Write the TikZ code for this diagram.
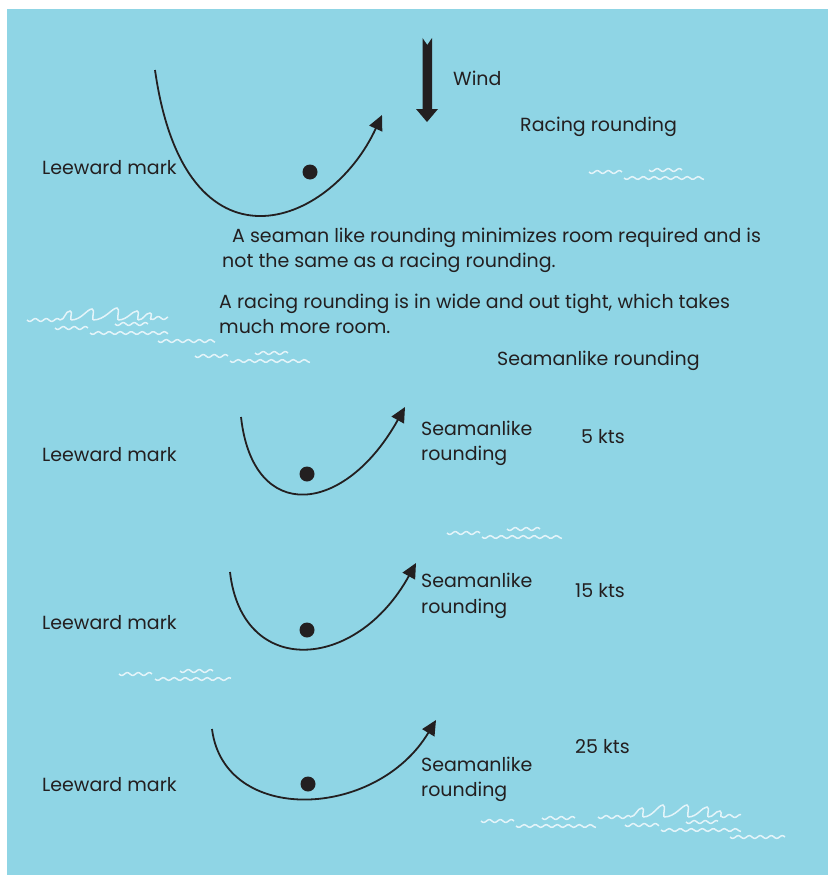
\documentclass[tikz,border=0pt]{standalone}
\usepackage{fontspec}
\setmainfont{Poppins}
\usetikzlibrary{arrows.meta}
\usepackage{xcolor}
\definecolor{sea}{RGB}{143,213,229}
\definecolor{foam}{RGB}{228,244,249}
\definecolor{ink}{RGB}{35,31,32}
\newcommand{\ripple}[3]{% x y length
  \draw[foam,line width=1.5pt] plot[domain=0:#3,samples=40] ({#1+\x},{#2+1.4*sin(\x*32.73)});
}
\newcommand{\crest}[4]{% from peak base top
  \draw[foam,line width=1.5pt] (#1,#3) .. controls ({(#1+#2)/2},#3) and (#2-5,#4) .. (#2,#4)
    .. controls (#2+3,#4+1) and (#2,#3-4) .. (#2+1,#3);
}

\begin{document}
\begin{tikzpicture}[x=1pt,y=-1pt,
  lbl/.style={anchor=west,inner sep=0pt,text=ink,font=\fontsize{19}{25.5}\selectfont},
  track/.style={ink,line width=1.8pt,-{Triangle[length=15pt,width=14pt]}},
  buoy/.style={circle,fill=ink,inner sep=0pt,minimum size=15pt}]
  \useasboundingbox (0,0) rectangle (828,875);
  \fill[sea] (7,9) rectangle (828,875);
  % waves
  \ripple{589}{172}{33}\ripple{649}{170}{33}\ripple{624}{178}{80}
  \ripple{27}{320}{33}\ripple{55}{328}{33}\ripple{90}{333}{78}\ripple{115}{324}{33}
  \ripple{150}{318}{18}\ripple{158}{341}{57}\ripple{195}{356}{33}\ripple{230}{361}{80}
  \ripple{255}{353}{33}
  \crest{60}{70}{320}{311}\crest{71}{92}{320}{309}\crest{93}{117}{320}{308}
  \crest{118}{137}{320}{311}\crest{138}{150}{320}{313}
  \ripple{447}{533}{33}\ripple{507}{529}{33}\ripple{482}{537}{80}
  \ripple{119}{674}{33}\ripple{180}{671}{33}\ripple{155}{679}{76}
  \ripple{481}{821}{33}\ripple{516}{826}{80}\ripple{542}{818}{33}\ripple{598}{817}{32}
  \ripple{625}{825}{34}\ripple{686}{822}{32}\ripple{661}{830}{80}\ripple{730}{837}{55}
  \ripple{721}{816}{20}
  \crest{630}{642}{817}{808}\crest{643}{663}{817}{805}\crest{664}{687}{817}{805}
  \crest{688}{707}{817}{807}\crest{708}{720}{817}{811}
  % wind
  \fill[ink] (422.5,38) -- (427.3,45) -- (432,38) -- (432,109) -- (438,109)
    -- (427,122) -- (416,109) -- (422.5,109) -- cycle;
  \node[lbl] (wind) at (453,78) {Wind};
  \node[lbl] (racing) at (520,127) {Racing rounding};
  % racing rounding
  \node[lbl] (lee0) at (42,168) {Leeward mark};
  \node[buoy] (mark0) at (310,172) {};
  \coordinate (in0) at (155,70);
  \coordinate (out0) at (382,115);
  \draw[track] (in0) .. controls (185,282) and (330,228) .. (out0);
  \node[lbl,align=left] (note1) at (222,250.5)
    {\hspace*{10pt}A seaman like rounding minimizes room required and is\\not the same as a racing rounding.};
  \node[lbl,align=left] (note2) at (219,314)
    {A racing rounding is in wide and out tight, which takes\\much more room.};
  \node[lbl] (seaman) at (497,361) {Seamanlike rounding};
  % seamanlike roundings
  \foreach \n/\ly/\sy/\kts/\kx/\ky/\ax/\ay/\bx/\by/\cy/\dy/\mx/\my in
    {1/455/443.5/5/581/437/241/417/405/407/525/515/307/474,
     2/623/596/15/575/591/230/572/416/563/678/672/307/630,
     3/785/779.5/25/575/747/212/729/436/720/825/820/308/784}{
    \node[lbl] (lee\n) at (42,\ly) {Leeward mark};
    \node[buoy] (mark\n) at (\mx,\my) {};
    \coordinate (in\n) at (\ax,\ay);
    \coordinate (out\n) at (\bx,\by);
    \draw[track] (in\n) .. controls (\ax+12,\cy) and (\bx-60,\dy) .. (out\n);
    \node[lbl,align=left] (sea\n) at (421,\sy) {Seamanlike\\rounding};
    \node[lbl] (kts\n) at (\kx,\ky) {\kts{} kts};
  }
\end{tikzpicture}
\end{document}
